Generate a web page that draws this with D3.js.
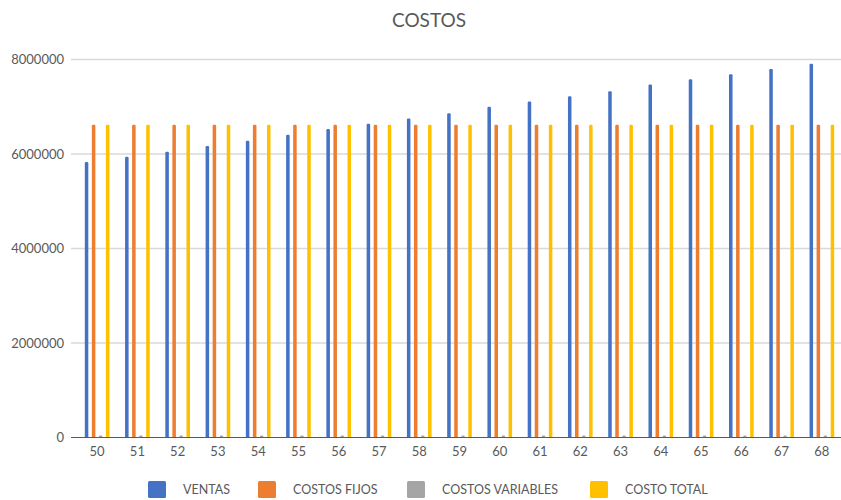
<!DOCTYPE html>
<html><head><meta charset="utf-8">
<script src="https://cdn.jsdelivr.net/npm/d3@7"></script>
<style>body{margin:0;background:#fff}svg{display:block}</style>
</head><body>
<svg id="chart" width="841" height="500"></svg>
<script>
const categories = ["50","51","52","53","54","55","56","57","58","59","60","61","62","63","64","65","66","67","68"];
const seriesNames = ["VENTAS","COSTOS FIJOS","COSTOS VARIABLES","COSTO TOTAL"];
const colors = ["#4472C4","#ED7D31","#A5A5A5","#FFC000"];
const ventas = [5830000,5940000,6050000,6170000,6280000,6410000,6530000,6640000,6750000,6860000,7000000,7110000,7220000,7330000,7470000,7580000,7690000,7800000,7910000];
const costosFijos = [6620000,6620000,6620000,6620000,6620000,6620000,6620000,6620000,6620000,6620000,6620000,6620000,6620000,6620000,6620000,6620000,6620000,6620000,6620000];
const costosVariables = [40000,40000,40000,40000,40000,40000,40000,40000,40000,40000,40000,40000,40000,40000,40000,40000,40000,40000,40000];
const costoTotal = [6620000,6620000,6620000,6620000,6620000,6620000,6620000,6620000,6620000,6620000,6620000,6620000,6620000,6620000,6620000,6620000,6620000,6620000,6620000];
const yTicks = [0,2000000,4000000,6000000,8000000];

const seriesValues = [ventas, costosFijos, costosVariables, costoTotal];
const svg = d3.select("#chart");
const font = "Lato, 'Open Sans', sans-serif";
const textColor = "#595959";

const x0 = d3.scaleBand().domain(categories).range([77, 842]).paddingInner(0.3).paddingOuter(0.15);
const x1 = d3.scaleBand().domain(seriesNames).range([0, x0.bandwidth()]).paddingInner(0.5).paddingOuter(0.25);
const y = d3.scaleLinear().domain([0, 8000000]).range([437.5, 59.5]);

// gridlines
svg.append("g").selectAll("line").data(yTicks.slice(1)).join("line")
  .attr("x1", 71).attr("x2", 841)
  .attr("y1", d => y(d)).attr("y2", d => y(d))
  .attr("stroke", "#d9d9d9").attr("stroke-width", 1.3);

// y labels
const yAxis = d3.axisLeft(y).tickValues(yTicks).tickSize(0).tickPadding(0).tickFormat(d3.format("d"));
const gy = svg.append("g").attr("transform", "translate(64,0)").call(yAxis);
gy.select(".domain").remove();
gy.selectAll("text").attr("font-family", font).attr("font-size", 13).attr("fill", textColor);

// bars
const groups = svg.append("g").selectAll("g").data(categories).join("g")
  .attr("transform", d => `translate(${x0(d)},0)`);
groups.selectAll("rect").data((d, i) => seriesNames.map((s, j) => ({s, j, v: seriesValues[j][i]}))).join("rect")
  .attr("x", d => x1(d.s))
  .attr("width", x1.bandwidth())
  .attr("y", d => y(d.v))
  .attr("height", d => y(0) - y(d.v))
  .attr("rx", 1.2)
  .attr("fill", d => colors[d.j]);

// x axis
const xAxis = d3.axisBottom(x0).tickSize(0).tickPadding(9);
const gx = svg.append("g").attr("transform", `translate(0,${y(0)})`).call(xAxis);
gx.select(".domain").remove();
gx.selectAll("text").attr("font-family", font).attr("font-size", 13).attr("fill", textColor);
svg.append("line").attr("x1", 71).attr("x2", 841).attr("y1", y(0)).attr("y2", y(0))
  .attr("stroke", "#595959").attr("stroke-width", 1.2);

// title
svg.append("text").attr("x", 429).attr("y", 27).attr("text-anchor", "middle")
  .attr("font-family", font).attr("font-size", 19).attr("fill", textColor).text("COSTOS");

// legend
const legendX = [148, 258, 407, 590];
const lg = svg.append("g").selectAll("g").data(seriesNames).join("g")
  .attr("transform", (d, i) => `translate(${legendX[i]},481)`);
lg.append("rect").attr("width", 18).attr("height", 17).attr("rx", 1.5).attr("fill", (d, i) => colors[i]);
lg.append("text").attr("x", 35).attr("y", 13).attr("font-family", font).attr("font-size", 12.5)
  .attr("fill", textColor).text(d => d);
</script>
</body></html>
